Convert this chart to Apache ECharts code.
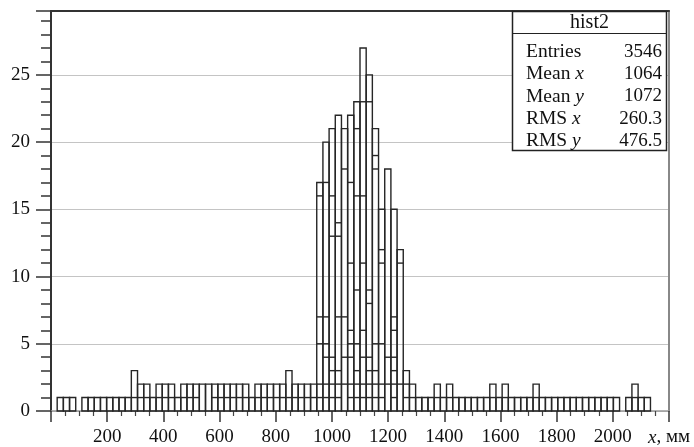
<!DOCTYPE html>
<html>
<head>
<meta charset="utf-8">
<title>hist2</title>
<script src="https://cdn.jsdelivr.net/npm/echarts@6.0.0/dist/echarts.min.js"></script>
<style>
	html, body { margin: 0; padding: 0; background: #fff; }
	#chart { width: 694px; height: 447px; }
</style>
</head>
<body>
<div id="chart"></div>
<script>
// histogram: 100 bins of 22 mm from 0 to 2200 mm
const binWidth = 22
const xMax = 2200
const xStep = 200
const yMax = 29.75
const yStep = 5

// height of each bin (outline)
const counts = [
	0, 1, 1, 1, 0, 1, 1, 1, 1, 1,
	1, 1, 1, 3, 2, 2, 1, 2, 2, 2,
	1, 2, 2, 2, 2, 2, 2, 2, 2, 2,
	2, 2, 1, 2, 2, 2, 2, 2, 3, 2,
	2, 2, 2, 17, 20, 21, 22, 21, 22, 23,
	27, 25, 21, 15, 18, 15, 12, 3, 2, 1,
	1, 1, 2, 1, 2, 1, 1, 1, 1, 1,
	1, 2, 1, 2, 1, 1, 1, 1, 2, 1,
	1, 1, 1, 1, 1, 1, 1, 1, 1, 1,
	1, 1, 0, 1, 2, 1, 1, 0, 0, 0
]

// bins outside the peak that show an inner line at 1
const level1Bins = [13, 14, 15, 17, 18, 19, 21, 22, 23, 26, 27, 28, 29, 30, 31,
	33, 34, 35, 36, 37, 38, 39, 40, 41, 42, 58, 62, 64, 71, 73, 78, 94]

// inner lines inside the peak bins
const peakDividers = [
	[43, [16, 7, 5, 2, 1]],
	[44, [17, 7, 5, 4, 2, 1]],
	[45, [16, 13, 4, 3, 2, 1]],
	[46, [14, 13, 7, 3, 2, 1]],
	[47, [18, 7, 4, 2]],
	[48, [17, 11, 6, 5, 4, 2, 1]],
	[49, [21, 16, 9, 5, 3, 2, 1]],
	[50, [23, 16, 11, 6, 4, 2, 1]],
	[51, [23, 9, 8, 4, 3, 2, 1]],
	[52, [19, 18, 5, 3, 2, 1]],
	[53, [12, 11, 5, 2, 1]],
	[54, [4, 2]],
	[55, [7, 6, 4, 3, 2, 1]],
	[56, [11, 2]],
	[57, [2, 1]]
]

// stats box
const statsTitle = 'hist2'
const statsLabels = ['Entries', 'Mean {i|x}', 'Mean {i|y}', 'RMS {i|x}', 'RMS {i|y}']
const statsValues = ['3546', '1064', '1072', '260.3', '476.5']

const FONT = '"Liberation Serif", "Times New Roman", serif'
const INK = '#262626'

const outlineData = counts.map((c, i) => [i, c]).filter(d => d[1] > 0)
const dividerData = []
level1Bins.forEach(b => dividerData.push([b, 1]))
peakDividers.forEach(([b, levels]) => levels.forEach(l => dividerData.push([b, l])))

const renderBin = (params, api) => {
	const bin = api.value(0)
	const base = api.coord([bin * binWidth, 0])
	const top = api.coord([(bin + 1) * binWidth, api.value(1)])
	return {
		type: 'rect',
		shape: { x: base[0], y: top[1], width: top[0] - base[0], height: base[1] - top[1] },
		style: { fill: 'none', stroke: INK, lineWidth: 1.4 }
	}
}

const renderDivider = (params, api) => {
	const bin = api.value(0)
	const a = api.coord([bin * binWidth, api.value(1)])
	const b = api.coord([(bin + 1) * binWidth, api.value(1)])
	return {
		type: 'line',
		shape: { x1: a[0], y1: a[1], x2: b[0], y2: b[1] },
		style: { stroke: INK, lineWidth: 1.4 }
	}
}

const italic = { fontFamily: FONT, fontSize: 19, fontStyle: 'italic', color: '#111' }

// stats box graphic
const boxLeft = 512.5
const boxTop = 11.5
const boxWidth = 154
const boxHeight = 139
const rowStart = 52
const rowStep = 22.2

const boxChildren = [
	{ type: 'rect', z: 100, shape: { x: boxLeft, y: boxTop, width: boxWidth, height: boxHeight },
		style: { fill: '#fff', stroke: '#222', lineWidth: 1.5 } },
	{ type: 'line', z: 101, shape: { x1: boxLeft, y1: 33.5, x2: boxLeft + boxWidth, y2: 33.5 },
		style: { stroke: '#222', lineWidth: 1.2 } },
	{ type: 'text', z: 101, x: boxLeft + boxWidth / 2, y: 23,
		style: { text: statsTitle, fontFamily: FONT, fontSize: 20, fill: '#111',
			align: 'center', verticalAlign: 'middle', textAlign: 'center', textVerticalAlign: 'middle' } }
]
statsLabels.forEach((label, k) => {
	const y = rowStart + k * rowStep
	boxChildren.push({ type: 'text', z: 101, x: 526, y: y,
		style: { text: label, fontFamily: FONT, fontSize: 19.5, fill: '#111',
			align: 'left', verticalAlign: 'middle', textAlign: 'left', textVerticalAlign: 'middle',
			rich: { i: { fontFamily: FONT, fontSize: 19.5, fontStyle: 'italic', fill: '#111' } } } })
	boxChildren.push({ type: 'text', z: 101, x: 662, y: y,
		style: { text: statsValues[k], fontFamily: FONT, fontSize: 19, fill: '#111',
			align: 'right', verticalAlign: 'middle', textAlign: 'right', textVerticalAlign: 'middle' } })
})

const chart = echarts.init(document.getElementById('chart'))

const option = {
	animation: false,
	backgroundColor: '#fff',
	grid: { left: 51, top: 11, width: 618, height: 401 },
	xAxis: [
		{
			type: 'value',
			position: 'bottom',
			min: 0,
			max: xMax,
			interval: xStep,
			axisLine: { show: true, onZero: false, lineStyle: { color: '#999', width: 1.5 } },
			axisTick: { show: true, length: 11, lineStyle: { color: '#333', width: 1.5 } },
			minorTick: { show: true, splitNumber: 4, length: 5, lineStyle: { color: '#444', width: 1.2 } },
			splitLine: { show: false },
			axisLabel: {
				margin: 17,
				showMaxLabel: true,
				fontFamily: FONT,
				fontSize: 19,
				color: '#111',
				formatter: v => v === 0 ? '' : (v === xMax ? '{i|x}, мм' : String(v)),
				rich: { i: italic }
			}
		},
		{
			type: 'value',
			position: 'top',
			min: 0,
			max: xMax,
			axisLine: { show: true, onZero: false, lineStyle: { color: '#333', width: 2 } },
			axisTick: { show: false },
			axisLabel: { show: false },
			splitLine: { show: false }
		}
	],
	yAxis: [
		{
			type: 'value',
			min: 0,
			max: yMax,
			interval: yStep,
			axisLine: { show: true, onZero: false, lineStyle: { color: '#333', width: 2 } },
			axisTick: { show: true, length: 15, lineStyle: { color: '#333', width: 1.5 } },
			axisLabel: {
				margin: 21,
				fontFamily: FONT,
				fontSize: 19,
				color: '#111',
				formatter: v => v % yStep === 0 ? String(v) : ''
			},
			splitLine: { show: true, lineStyle: { color: '#c4c4c4', width: 1 } }
		},
		{
			type: 'value',
			position: 'left',
			min: 0,
			max: yMax,
			interval: 1,
			axisLine: { show: false },
			axisTick: { show: true, length: 10, lineStyle: { color: '#333', width: 1.5 } },
			axisLabel: { show: false },
			splitLine: { show: false }
		},
		{
			type: 'value',
			position: 'right',
			min: 0,
			max: yMax,
			axisLine: { show: true, onZero: false, lineStyle: { color: '#888', width: 2 } },
			axisTick: { show: false },
			axisLabel: { show: false },
			splitLine: { show: false }
		}
	],
	series: [
		{
			type: 'custom',
			name: 'bins',
			xAxisIndex: 0,
			yAxisIndex: 0,
			silent: true,
			renderItem: renderBin,
			data: outlineData
		},
		{
			type: 'custom',
			name: 'slices',
			xAxisIndex: 0,
			yAxisIndex: 0,
			silent: true,
			renderItem: renderDivider,
			data: dividerData
		}
	],
	graphic: [
		{ type: 'group', z: 100, children: boxChildren }
	]
}

chart.setOption(option)
</script>
</body>
</html>
